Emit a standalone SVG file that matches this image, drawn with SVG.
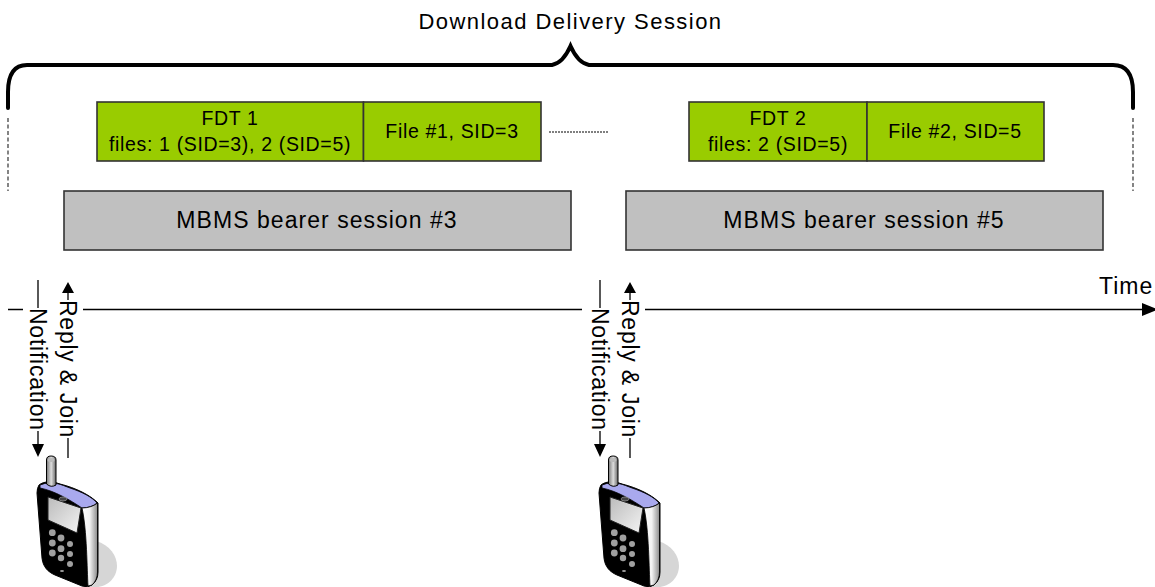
<svg xmlns="http://www.w3.org/2000/svg" width="1155" height="587" viewBox="0 0 1155 587">
<style>
text{font-family:"Liberation Sans",Arial,sans-serif;fill:#000}
.t{text-anchor:middle}
.b{font-size:19.500px;letter-spacing:.66px}
.m{font-size:23px;letter-spacing:1.05px}
.box{stroke:#333;stroke-width:1.6}
.g{fill:#99cc00}
.s{fill:#c0c0c0}
.w{fill:none;stroke:#000;stroke-width:1.3}
.brace{fill:none;stroke:#000;stroke-width:4;stroke-linecap:round}
.dash{fill:none;stroke:#333;stroke-width:1.2;stroke-dasharray:4 2.5}
</style>
<defs>
<linearGradient id="ant" x1="0" x2="1" y1="0" y2="0"><stop offset="0" stop-color="#777"/><stop offset=".5" stop-color="#ddd"/><stop offset="1" stop-color="#666"/></linearGradient>
<linearGradient id="side" x1="0" x2="1" y1="0" y2="0"><stop offset="0" stop-color="#fff"/><stop offset=".5" stop-color="#f2f2f2"/><stop offset="1" stop-color="#8c8c8c"/></linearGradient>
<linearGradient id="scr" x1="0" x2="1" y1="0" y2="1"><stop offset="0" stop-color="#bbb"/><stop offset="1" stop-color="#f4f4f4"/></linearGradient>
<g id="phone">
<path d="M96 541C110 545 117 556 117 566C117 577 108 587 96 587H84Z" fill="#d6d6d6"/>
<path d="M39 485C44 481 52 481 60 484C76 488 90 495 98 503V572Q98 580 92 585Q88 588 82 586L55 575C48 572 43 567 42 558L37 493Q37 488 39 485Z" fill="#000" stroke="#000"/>
<path d="M40 485C52 480 62 485 70 488C82 492 92 497 97 503C94 506 88 508 82 508C70 500 55 491 40 488Z" fill="#a9a9ee" stroke="#000" stroke-width=".8"/>
<path d="M82 508C88 508 94 506 97.500 503V572Q97.500 580 92 585L88 586C87 570 87 530 82 508Z" fill="url(#side)" stroke="#000" stroke-width=".8"/>
<path d="M46.500 460V484Q51 488 56 485V460Q56 456 51 456Q46.500 456 46.500 460Z" fill="url(#ant)" stroke="#000"/>
<ellipse cx="51" cy="460" rx="3.500" ry="2" fill="#bbb"/>
<path d="M48 497L81 508L77 533L48 520Z" fill="url(#scr)" stroke="#222"/>
<ellipse cx="63" cy="499" rx="4" ry="2" fill="#444" stroke="#999" stroke-width=".7"/>
<g fill="#a0a0a0"><circle cx="52.300" cy="532.700" r="3.400"/><circle cx="61" cy="538" r="3.400"/><circle cx="70" cy="544" r="3"/><circle cx="52.300" cy="543" r="3.400"/><circle cx="61" cy="548.700" r="3.400"/><circle cx="70" cy="554" r="3"/><circle cx="52.300" cy="553" r="3.400"/><circle cx="61" cy="558" r="3.200"/><circle cx="70" cy="564" r="3"/><ellipse cx="62" cy="571" rx="2" ry="1"/></g>
</g>
</defs>

<g id="connectors">
<path class="brace" d="M8 108V92Q8 65 27 65H552Q563 63 570.500 46Q578 63 589 65H1113Q1133 65 1133 92V108"/>
<path class="dash" d="M8 118V191M1133 118V191"/>
<path d="M549 132H609" fill="none" stroke="#000" stroke-width="1.200" stroke-dasharray="2 1"/>
<path class="w" d="M8 309.500H23M83 309.500H582M645 309.500H1143"/>
<path d="M1142 303L1158 309.500L1142 316Z"/>
<path class="w" d="M38 280V308M38 431V444M68 292V300M68 438V458M600 280V308M600 431V444M630 292V300M630 438V458"/>
<path d="M32 444H44L38 457ZM62 293H74L68 282ZM594 444H606L600 457ZM624 293H636L630 282Z"/>
</g>

<text id="title" class="t" x="570.500" y="29" font-size="22" letter-spacing="1.45">Download Delivery Session</text>

<g id="fdt1"><rect class="box g" x="97" y="102" width="266.500" height="59"/><text class="t b" x="230" y="125">FDT 1</text><text class="t b" x="230" y="150.500">files: 1 (SID=3), 2 (SID=5)</text></g>
<g id="file1"><rect class="box g" x="363.500" y="102" width="177.500" height="59"/><text class="t b" x="452" y="138">File #1, SID=3</text></g>
<g id="fdt2"><rect class="box g" x="689" y="102" width="178" height="59"/><text class="t b" x="778" y="125">FDT 2</text><text class="t b" x="778" y="150.500">files: 2 (SID=5)</text></g>
<g id="file2"><rect class="box g" x="867" y="102" width="177" height="59"/><text class="t b" x="955" y="138">File #2, SID=5</text></g>
<g id="bearer3"><rect class="box s" x="64" y="191" width="507" height="59"/><text class="t m" x="317" y="228">MBMS bearer session #3</text></g>
<g id="bearer5"><rect class="box s" x="626" y="191" width="477" height="59"/><text class="t m" x="864" y="228">MBMS bearer session #5</text></g>
<text id="time" x="1099" y="294" font-size="23" letter-spacing="1">Time</text>

<g id="labels" font-size="23" letter-spacing=".75">
<text transform="translate(29.500 308) rotate(90)">Notification</text>
<text transform="translate(60 300) rotate(90)">Reply &amp; Join</text>
<text transform="translate(591.500 308) rotate(90)">Notification</text>
<text transform="translate(622 300) rotate(90)">Reply &amp; Join</text>
</g>
<use id="phone1" href="#phone"/>
<use id="phone2" href="#phone" x="562"/>
</svg>
